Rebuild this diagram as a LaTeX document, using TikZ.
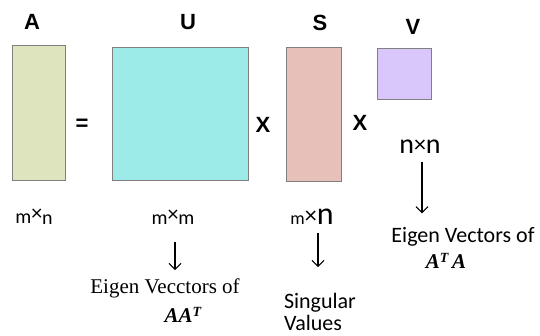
\documentclass[tikz,border=0pt]{standalone}
\usepackage{fontspec}
\setmainfont{Liberation Sans}
\newfontfamily\calfont{Carlito}
\newfontfamily\serfont{Liberation Serif}
\usetikzlibrary{arrows.meta}

\definecolor{colA}{HTML}{DDE4BE}
\definecolor{colU}{HTML}{9DEBE9}
\definecolor{colS}{HTML}{E8C0BA}
\definecolor{colV}{HTML}{D9C6FB}

\newcommand{\fs}[1]{\fontsize{#1}{#1}\selectfont}

\tikzset{
  matbox/.style={draw=black!50,line width=0.9pt,inner sep=0pt},
  letter/.style={font=\fs{22}\bfseries,inner sep=0pt},
  dims/.style={font=\calfont,inner sep=0pt},
  desc/.style={font=\calfont\fs{22},inner sep=0pt,align=left},
  serdesc/.style={font=\serfont\fs{21},inner sep=0pt},
  downarrow/.style={line width=1.1pt,-{Straight Barb[length=6pt,width=12pt]}},
}

\begin{document}
\begin{tikzpicture}[x=1pt,y=-1pt]
\useasboundingbox (0,0) rectangle (540,336);
% the four matrices
\node[matbox,fill=colA,minimum width=53pt,minimum height=135pt] (boxA) at (38.5,112.5) {};
\node[matbox,fill=colU,minimum width=136pt,minimum height=133pt] (boxU) at (180,113.5) {};
\node[matbox,fill=colS,minimum width=55pt,minimum height=134pt] (boxS) at (313.5,114) {};
\node[matbox,fill=colV,minimum width=54pt,minimum height=51pt] (boxV) at (404,73.5) {};
% names and signs
\node[letter] (nameA) at (32,22) {A};
\node[letter] (nameU) at (188,22) {U};
\node[letter] (nameS) at (320,23) {S};
\node[letter] (nameV) at (413,27) {V};
\node[letter] (eq) at (82,125) {=};
\node[letter] (timesU) at (263,125) {X};
\node[letter] (timesS) at (360,123) {X};
% sizes
\node[dims] (dimA) at (34,217) {\fs{20}m\raisebox{3pt}{\fs{22}×}\raisebox{-1pt}{\fs{20}n}};
\node[dims] (dimU) at (173,217) {\fs{20}m\raisebox{3pt}{\fs{22}×}\fs{20}m};
\node[dims] (dimS) at (312,217) {\fs{18}m\raisebox{1pt}{\fs{24}×}\fs{32}n};
\node[dims] (dimV) at (420,147) {\fs{28}n\raisebox{1pt}{\fs{24}×}n};
% what they are
\node[serdesc] (descU) at (165,288) {Eigen Vecctors of};
\node[serdesc,font=\serfont\fs{21}\bfseries\itshape] (matU) at (183,315) {AA\raisebox{6pt}{\fs{14}T}};
\node[desc] (descS) at (320,312) {Singular\\Values};
\node[desc] (descV) at (463,237) {Eigen Vectors of};
\node[serdesc,font=\serfont\fs{21}\bfseries\itshape] (matV) at (446,261) {A\raisebox{6pt}{\fs{14}T}\,A};
% arrows
\draw[downarrow,shorten <=18pt,shorten >=8pt] (dimU.south -| 175,0) -- (descU.north -| 175,0);
\draw[downarrow,shorten <=8pt,shorten >=26pt] (dimS.south -| 318,0) -- (descS.north -| 318,0);
\draw[downarrow,shorten <=8pt,shorten >=14pt] (dimV.south -| 422,0) -- (descV.north -| 422,0);
\end{tikzpicture}
\end{document}
